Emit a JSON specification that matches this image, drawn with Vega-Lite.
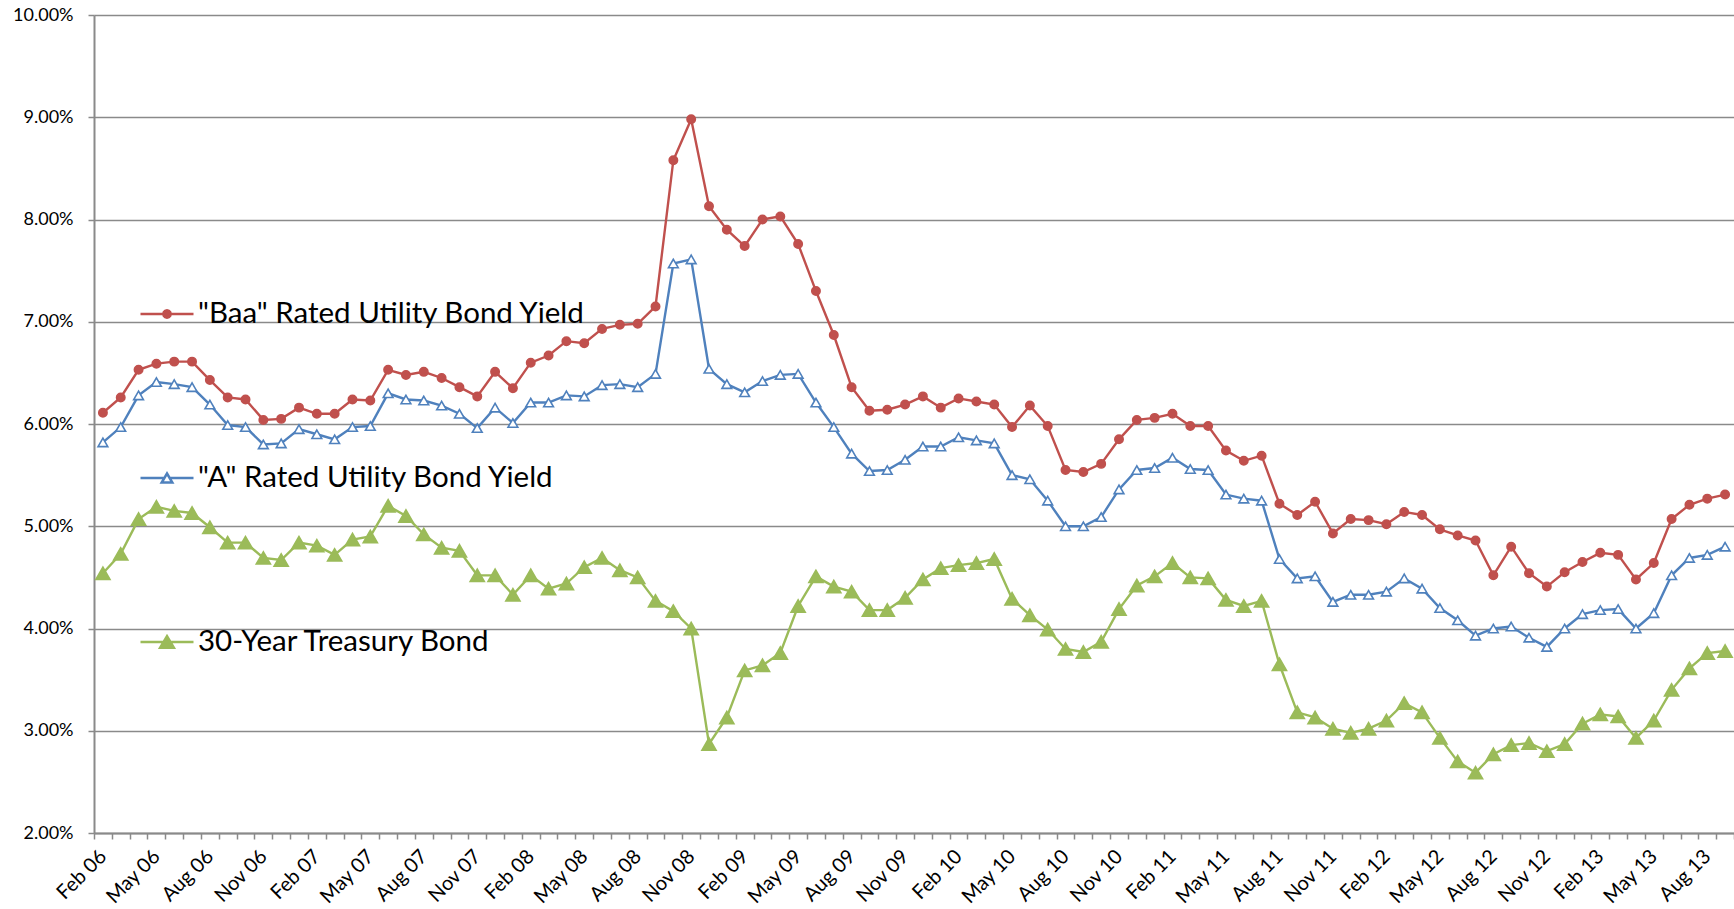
{
  "$schema": "https://vega.github.io/schema/vega-lite/v6.json",
  "width": 1640,
  "height": 818,
  "autosize": {"type": "none"},
  "padding": {"left": 94, "top": 15, "right": 0, "bottom": 76},
  "background": "white",
  "config": {"view": {"stroke": null}},
  "data": {"values": [
    {"m":"Feb 06","baa":6.11,"a":5.82,"t":4.54},
    {"m":"Mar 06","baa":6.26,"a":5.97,"t":4.73},
    {"m":"Apr 06","baa":6.53,"a":6.28,"t":5.07},
    {"m":"May 06","baa":6.59,"a":6.41,"t":5.19},
    {"m":"Jun 06","baa":6.61,"a":6.39,"t":5.15},
    {"m":"Jul 06","baa":6.61,"a":6.36,"t":5.13},
    {"m":"Aug 06","baa":6.43,"a":6.19,"t":4.99},
    {"m":"Sep 06","baa":6.26,"a":5.99,"t":4.84},
    {"m":"Oct 06","baa":6.24,"a":5.97,"t":4.84},
    {"m":"Nov 06","baa":6.04,"a":5.80,"t":4.69},
    {"m":"Dec 06","baa":6.05,"a":5.81,"t":4.67},
    {"m":"Jan 07","baa":6.16,"a":5.95,"t":4.84},
    {"m":"Feb 07","baa":6.10,"a":5.90,"t":4.81},
    {"m":"Mar 07","baa":6.10,"a":5.85,"t":4.72},
    {"m":"Apr 07","baa":6.24,"a":5.97,"t":4.87},
    {"m":"May 07","baa":6.23,"a":5.98,"t":4.90},
    {"m":"Jun 07","baa":6.53,"a":6.30,"t":5.20},
    {"m":"Jul 07","baa":6.48,"a":6.24,"t":5.10},
    {"m":"Aug 07","baa":6.51,"a":6.23,"t":4.92},
    {"m":"Sep 07","baa":6.45,"a":6.18,"t":4.79},
    {"m":"Oct 07","baa":6.36,"a":6.10,"t":4.76},
    {"m":"Nov 07","baa":6.27,"a":5.96,"t":4.52},
    {"m":"Dec 07","baa":6.51,"a":6.16,"t":4.52},
    {"m":"Jan 08","baa":6.35,"a":6.01,"t":4.33},
    {"m":"Feb 08","baa":6.60,"a":6.21,"t":4.52},
    {"m":"Mar 08","baa":6.67,"a":6.21,"t":4.39},
    {"m":"Apr 08","baa":6.81,"a":6.28,"t":4.44},
    {"m":"May 08","baa":6.79,"a":6.27,"t":4.60},
    {"m":"Jun 08","baa":6.93,"a":6.38,"t":4.69},
    {"m":"Jul 08","baa":6.97,"a":6.39,"t":4.57},
    {"m":"Aug 08","baa":6.98,"a":6.36,"t":4.50},
    {"m":"Sep 08","baa":7.15,"a":6.49,"t":4.27},
    {"m":"Oct 08","baa":8.58,"a":7.57,"t":4.17},
    {"m":"Nov 08","baa":8.98,"a":7.61,"t":4.00},
    {"m":"Dec 08","baa":8.13,"a":6.54,"t":2.87},
    {"m":"Jan 09","baa":7.90,"a":6.39,"t":3.13},
    {"m":"Feb 09","baa":7.74,"a":6.31,"t":3.59},
    {"m":"Mar 09","baa":8.00,"a":6.42,"t":3.64},
    {"m":"Apr 09","baa":8.03,"a":6.48,"t":3.76},
    {"m":"May 09","baa":7.76,"a":6.49,"t":4.22},
    {"m":"Jun 09","baa":7.30,"a":6.21,"t":4.51},
    {"m":"Jul 09","baa":6.87,"a":5.97,"t":4.41},
    {"m":"Aug 09","baa":6.36,"a":5.71,"t":4.36},
    {"m":"Sep 09","baa":6.13,"a":5.54,"t":4.18},
    {"m":"Oct 09","baa":6.14,"a":5.55,"t":4.18},
    {"m":"Nov 09","baa":6.19,"a":5.65,"t":4.30},
    {"m":"Dec 09","baa":6.27,"a":5.78,"t":4.48},
    {"m":"Jan 10","baa":6.16,"a":5.78,"t":4.59},
    {"m":"Feb 10","baa":6.25,"a":5.87,"t":4.62},
    {"m":"Mar 10","baa":6.22,"a":5.84,"t":4.64},
    {"m":"Apr 10","baa":6.19,"a":5.81,"t":4.68},
    {"m":"May 10","baa":5.97,"a":5.50,"t":4.29},
    {"m":"Jun 10","baa":6.18,"a":5.46,"t":4.13},
    {"m":"Jul 10","baa":5.98,"a":5.25,"t":3.99},
    {"m":"Aug 10","baa":5.55,"a":5.00,"t":3.80},
    {"m":"Sep 10","baa":5.53,"a":5.00,"t":3.77},
    {"m":"Oct 10","baa":5.61,"a":5.09,"t":3.87},
    {"m":"Nov 10","baa":5.85,"a":5.36,"t":4.19},
    {"m":"Dec 10","baa":6.04,"a":5.55,"t":4.42},
    {"m":"Jan 11","baa":6.06,"a":5.57,"t":4.51},
    {"m":"Feb 11","baa":6.10,"a":5.67,"t":4.64},
    {"m":"Mar 11","baa":5.98,"a":5.56,"t":4.50},
    {"m":"Apr 11","baa":5.98,"a":5.55,"t":4.49},
    {"m":"May 11","baa":5.74,"a":5.31,"t":4.28},
    {"m":"Jun 11","baa":5.64,"a":5.27,"t":4.22},
    {"m":"Jul 11","baa":5.69,"a":5.25,"t":4.27},
    {"m":"Aug 11","baa":5.22,"a":4.68,"t":3.65},
    {"m":"Sep 11","baa":5.11,"a":4.49,"t":3.18},
    {"m":"Oct 11","baa":5.24,"a":4.51,"t":3.13},
    {"m":"Nov 11","baa":4.93,"a":4.26,"t":3.02},
    {"m":"Dec 11","baa":5.07,"a":4.33,"t":2.98},
    {"m":"Jan 12","baa":5.06,"a":4.33,"t":3.02},
    {"m":"Feb 12","baa":5.02,"a":4.36,"t":3.10},
    {"m":"Mar 12","baa":5.14,"a":4.49,"t":3.27},
    {"m":"Apr 12","baa":5.11,"a":4.39,"t":3.18},
    {"m":"May 12","baa":4.97,"a":4.20,"t":2.93},
    {"m":"Jun 12","baa":4.91,"a":4.08,"t":2.70},
    {"m":"Jul 12","baa":4.86,"a":3.93,"t":2.59},
    {"m":"Aug 12","baa":4.52,"a":4.00,"t":2.77},
    {"m":"Sep 12","baa":4.80,"a":4.02,"t":2.86},
    {"m":"Oct 12","baa":4.54,"a":3.91,"t":2.88},
    {"m":"Nov 12","baa":4.41,"a":3.82,"t":2.80},
    {"m":"Dec 12","baa":4.55,"a":4.00,"t":2.87},
    {"m":"Jan 13","baa":4.65,"a":4.14,"t":3.07},
    {"m":"Feb 13","baa":4.74,"a":4.18,"t":3.16},
    {"m":"Mar 13","baa":4.72,"a":4.19,"t":3.14},
    {"m":"Apr 13","baa":4.48,"a":4.00,"t":2.93},
    {"m":"May 13","baa":4.64,"a":4.15,"t":3.10},
    {"m":"Jun 13","baa":5.07,"a":4.52,"t":3.40},
    {"m":"Jul 13","baa":5.21,"a":4.69,"t":3.61},
    {"m":"Aug 13","baa":5.27,"a":4.72,"t":3.76},
    {"m":"Sep 13","baa":5.31,"a":4.80,"t":3.78}
  ]},
  "resolve": {"scale": {"shape": "independent", "fill": "independent", "stroke": "independent"}},
  "layer": [
    {
      "transform": [{"fold": ["baa", "a", "t"], "as": ["series", "value"]}],
      "encoding": {
        "x": {
          "field": "m", "type": "ordinal", "sort": null,
          "scale": {"type": "band", "paddingInner": 0, "paddingOuter": 0},
          "axis": {
            "title": null, "labelAngle": -45, "labelAlign": "right", "labelBaseline": "middle",
            "labelFont": "Lato", "labelFontSize": 20, "labelColor": "black",
            "labelPadding": 14, "labelOverlap": false, "labelBound": false, "labelFlush": false,
            "labelExpr": "indexof(['Feb','May','Aug','Nov'], slice(datum.label, 0, 3)) >= 0 ? datum.label : ''",
            "tickBand": "extent", "tickSize": 6, "tickColor": "#8a8a8a", "tickWidth": 1.5,
            "domainColor": "#8a8a8a", "domainWidth": 2, "grid": false
          }
        },
        "y": {
          "field": "value", "type": "quantitative",
          "scale": {"domain": [2, 10], "nice": false, "zero": false},
          "axis": {
            "title": null, "values": [2, 3, 4, 5, 6, 7, 8, 9, 10],
            "labelExpr": "format(datum.value, '.2f') + '%'",
            "labelFont": "Lato", "labelFontSize": 18, "labelColor": "black", "labelPadding": 15,
            "tickSize": 6, "tickColor": "#8a8a8a", "tickWidth": 1.5,
            "domainColor": "#8a8a8a", "domainWidth": 2,
            "grid": true, "gridColor": "#8a8a8a", "gridWidth": 1.5
          }
        }
      },
      "layer": [
        {
          "mark": {"type": "line", "strokeWidth": 2.4},
          "encoding": {
            "color": {"field": "series", "type": "nominal",
              "scale": {"domain": ["baa", "a", "t"], "range": ["#C0504D", "#4F81BD", "#9BBB59"]},
              "legend": null}
          }
        },
        {
          "mark": {"type": "point", "filled": true, "opacity": 1, "strokeWidth": 1.6},
          "encoding": {
            "shape": {"field": "series", "type": "nominal",
              "scale": {"domain": ["baa", "a", "t"], "range": ["circle", "triangle-up", "triangle-up"]}, "legend": null},
            "fill": {"field": "series", "type": "nominal",
              "scale": {"domain": ["baa", "a", "t"], "range": ["#C0504D", "white", "#9BBB59"]}, "legend": null},
            "stroke": {"field": "series", "type": "nominal",
              "scale": {"domain": ["baa", "a", "t"], "range": ["#C0504D", "#4F81BD", "#9BBB59"]}, "legend": null},
            "size": {"field": "series", "type": "nominal",
              "scale": {"type": "ordinal", "domain": ["baa", "a", "t"], "range": [70, 95, 200]}, "legend": null}
          }
        }
      ]
    },
    {
      "data": {"values": []},
      "mark": {"type": "point", "filled": true, "opacity": 1, "strokeWidth": 2.5},
      "encoding": {
        "shape": {"field": "series", "type": "nominal",
          "scale": {"domain": ["baa", "a", "t"], "range": [
            "M-1,0L1,0M0.14,0L0.121,0.07L0.07,0.121L0,0.14L-0.07,0.121L-0.121,0.07L-0.14,0L-0.121,-0.07L-0.07,-0.121L0,-0.14L0.07,-0.121L0.121,-0.07Z",
            "M-1,0L-0.12,0M0.12,0L1,0M0,-0.17L0.2,0.17L-0.2,0.17Z",
            "M-1,0L1,0M0,-0.22L0.26,0.22L-0.26,0.22Z"
          ]},
          "legend": {
            "orient": "none", "legendX": 45, "legendY": 271, "direction": "vertical",
            "padding": 0, "rowPadding": 121, "title": null,
            "symbolSize": 2809, "symbolStrokeWidth": 2.5,
            "labelFont": "Lato", "labelFontSize": 29.5, "labelColor": "black", "labelOffset": 3, "labelLimit": 900,
            "labelExpr": "datum.label == 'baa' ? '\"Baa\" Rated Utility Bond Yield' : datum.label == 'a' ? '\"A\" Rated Utility Bond Yield' : '30-Year Treasury Bond'"
          }
        },
        "fill": {"field": "series", "type": "nominal",
          "scale": {"domain": ["baa", "a", "t"], "range": ["#C0504D", "white", "#9BBB59"]},
          "legend": {
            "orient": "none", "legendX": 45, "legendY": 271, "direction": "vertical",
            "padding": 0, "rowPadding": 121, "title": null,
            "symbolSize": 2809, "symbolStrokeWidth": 2.5,
            "labelFont": "Lato", "labelFontSize": 29.5, "labelColor": "black", "labelOffset": 3, "labelLimit": 900,
            "labelExpr": "datum.label == 'baa' ? '\"Baa\" Rated Utility Bond Yield' : datum.label == 'a' ? '\"A\" Rated Utility Bond Yield' : '30-Year Treasury Bond'"
          }
        },
        "stroke": {"field": "series", "type": "nominal",
          "scale": {"domain": ["baa", "a", "t"], "range": ["#C0504D", "#4F81BD", "#9BBB59"]},
          "legend": {
            "orient": "none", "legendX": 45, "legendY": 271, "direction": "vertical",
            "padding": 0, "rowPadding": 121, "title": null,
            "symbolSize": 2809, "symbolStrokeWidth": 2.5,
            "labelFont": "Lato", "labelFontSize": 29.5, "labelColor": "black", "labelOffset": 3, "labelLimit": 900,
            "labelExpr": "datum.label == 'baa' ? '\"Baa\" Rated Utility Bond Yield' : datum.label == 'a' ? '\"A\" Rated Utility Bond Yield' : '30-Year Treasury Bond'"
          }
        }
      }
    }
  ]
}
